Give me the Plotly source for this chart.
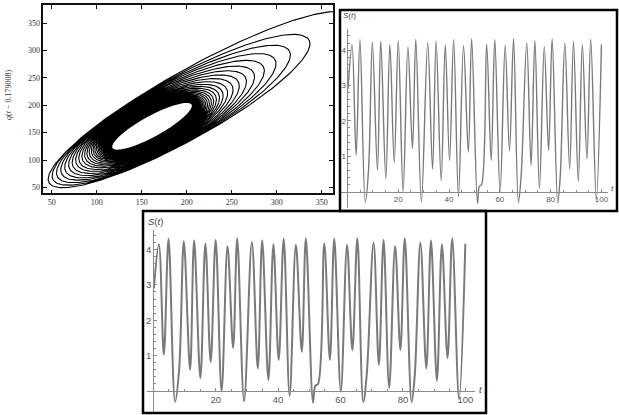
import numpy as np
import plotly.graph_objects as go

W, H = 619, 415

# ---------------- time series S(t): extremes / shoulders
t_vals = [0.2, 1.8, 3.4, 4.9, 7.0, 8.3, 9.8, 11.8, 13.1, 15.1, 16.7, 18.4, 20.0, 21.9,
          23.8, 25.6, 26.9, 29.1, 31.6, 33.5, 34.9, 36.9, 38.5, 40.2, 41.8, 43.7,
          45.7, 47.6, 48.9, 51.2, 51.9, 52.8, 54.8, 56.6, 58.0, 60.1, 62.1, 63.8,
          65.4, 67.3, 68.4, 70.6, 72.3, 73.8, 75.6, 77.5, 79.2, 80.6, 82.8, 83.8,
          85.6, 87.5, 89.0, 90.9, 92.5, 94.3, 95.8, 98.0, 100.0]
s_vals = [2.9, 4.15, 1.03, 4.30, -0.30, 0.62, 4.23, 0.60, 4.25, 0.36, 4.17, 0.82, 4.27, 0.00,
          4.09, 1.22, 4.31, -0.29, 4.21, 0.64, 4.25, 0.31, 4.15, 0.88, 4.30, -0.14,
          4.13, 1.11, 4.32, -0.33, 0.15, 0.20, 4.17, 0.88, 4.30, -0.02, 4.13, 1.15,
          4.32, -0.31, 0.45, 4.20, 0.74, 4.27, 0.09, 4.10, 1.16, 4.32, -0.31, 0.45,
          4.20, 0.64, 4.25, 0.29, 4.15, 0.93, 4.31, -0.22, 4.16]
ts_x_ticks = [20, 40, 60, 80, 100]
ts_y_ticks = [1, 2, 3, 4]

# ---------------- phase portrait: per-turn tips and half-widths
turn_ur_x = [375, 331, 310, 294, 281, 270, 261, 253, 246, 240,
             235, 231, 227.5, 224.5, 222, 219.8, 217.8, 216, 214.5, 213.2,
             212, 211, 210.1, 209.3, 208.6, 208, 207.5, 207.1, 206.7, 206.4,
             206.1, 205.9, 205.7, 205.55, 205.42, 205.32, 205.24, 205.18, 205.13, 205.09,
             205.06, 205.04, 205.02, 205.01, 205, 205, 205, 205, 205, 205,
             205, 205]
turn_ll_x = [50, 55, 60, 65, 69.5, 74, 78, 82, 85.5, 89,
             92, 94.7, 97.2, 99.5, 101.5, 103.3, 105, 106.5, 107.8, 109,
             110.1, 111.1, 112, 112.8, 113.5, 114.1, 114.7, 115.2, 115.6, 116,
             116.35, 116.65, 116.9, 117.1, 117.3, 117.45, 117.58, 117.68, 117.76, 117.83,
             117.88, 117.92, 117.95, 117.97, 117.99, 118, 118, 118, 118, 118,
             118, 118]
turn_half_width = [50, 49, 48, 47, 46, 45, 44, 43, 42, 41,
                   40, 39.3, 38.6, 37.9, 37.2, 36.5, 35.8, 35.1, 34.4, 33.7,
                   33, 32.3, 31.6, 30.9, 30.2, 29.5, 28.8, 28.1, 27.4, 26.7,
                   26, 25.3, 24.6, 23.9, 23.2, 22.6, 22, 21.4, 20.8, 20.3,
                   19.8, 19.3, 18.9, 18.5, 18.2, 17.9, 17.6, 17.4, 17.2, 17.1,
                   17, 17]
tip_slope, tip_offset = 0.97, 5.0
phase_ticks = [50, 100, 150, 200, 250, 300, 350]

# ---- spiral geometry from the turn table
n = len(turn_ur_x)
k = np.arange(n)
phi = np.linspace(0, 2 * np.pi * (n - 1), 260 * (n - 1) + 1)
ur = np.interp(phi, 2 * np.pi * k, turn_ur_x)
ll = np.interp(phi, 2 * np.pi * k + np.pi, turn_ll_x)
bb = np.interp(phi, 2 * np.pi * k + np.pi / 2, turn_half_width)
xu, yu = ur, tip_slope * ur + tip_offset
xl, yl = ll, tip_slope * ll + tip_offset
cx, cy = (xu + xl) / 2, (yu + yl) / 2
aa = np.hypot(xu - xl, yu - yl) / 2
th = np.arctan2(yu - yl, xu - xl)
u, v = aa * np.cos(phi), bb * np.sin(phi)
sx = cx + u * np.cos(th) - v * np.sin(th)
sy = cy + u * np.sin(th) + v * np.cos(th)


def px(x):
    return x / W


def py(y):
    return 1 - y / H


fig = go.Figure()
fig.add_trace(go.Scatter(x=sx, y=sy, mode="lines", line=dict(color="black", width=1.1),
                         xaxis="x", yaxis="y", hoverinfo="skip"))
fig.add_trace(go.Scatter(x=t_vals, y=s_vals, mode="lines", line_shape="spline",
                         line=dict(color="#7a7a7a", width=1.4), xaxis="x2", yaxis="y2"))
fig.add_trace(go.Scatter(x=t_vals, y=s_vals, mode="lines", line_shape="spline",
                         line=dict(color="#7a7a7a", width=2), xaxis="x3", yaxis="y3"))

serif = "Liberation Serif"
sans = "Liberation Sans"

# panel 1 axes
ax1 = dict(showgrid=False, zeroline=False, showline=True, linecolor="#111", linewidth=1.5,
           mirror="ticks", ticks="inside", ticklen=4, tickcolor="#111", automargin=False,
           tickfont=dict(family=serif, size=8, color="#333"))
fig.update_layout(
    xaxis=dict(domain=[px(43.3), px(333)], range=[40.7, 362.6], tickvals=phase_ticks,
               anchor="y", **ax1),
    yaxis=dict(domain=[py(193.3), py(5)], range=[39.1, 383.5], tickvals=phase_ticks,
               anchor="x", **ax1),
)

# time-series panels with axes crossing at the origin
def ts_axes(xdom_px, xr, ydom_px, yr, fsize):
    xd = [px(xdom_px[0]), px(xdom_px[1])]
    yd = [py(ydom_px[1]), py(ydom_px[0])]
    xpos = xd[0] + (0 - xr[0]) / (xr[1] - xr[0]) * (xd[1] - xd[0])
    ypos = yd[0] + (0 - yr[0]) / (yr[1] - yr[0]) * (yd[1] - yd[0])
    common = dict(showgrid=False, zeroline=False, showline=True, linecolor="#8a8a8a",
                  linewidth=1, ticks="inside", ticklen=3, tickcolor="#8a8a8a",
                  automargin=False,
                  tickfont=dict(family=sans, size=fsize, color="#555"))
    xa = dict(domain=xd, range=xr, anchor="free", position=ypos, tickvals=ts_x_ticks,
              minor=dict(tickvals=[v for v in range(5, 101, 5) if v % 20], ticks="inside",
                         ticklen=2, tickcolor="#8a8a8a"), **common)
    ya = dict(domain=yd, range=yr, anchor="free", position=xpos, tickvals=ts_y_ticks,
              minor=dict(tickvals=[i / 5 for i in range(1, 23) if i % 5], ticks="inside",
                         ticklen=2, tickcolor="#8a8a8a"), **common)
    return xa, ya

xa2, ya2 = ts_axes((340, 608), [-2.95, 102.6], (28.9, 207.6), [-0.45, 4.6], 8)
xa3, ya3 = ts_axes((146.7, 475), [-2.1, 103.1], (230, 412), [-0.593, 4.55], 9.5)
fig.update_layout(xaxis2=xa2, yaxis2=ya2, xaxis3=xa3, yaxis3=ya3)

# boxes
box = dict(type="rect", xref="paper", yref="paper", line=dict(color="black", width=2.5),
           fillcolor="rgba(0,0,0,0)", layer="above")
fig.add_shape(x0=px(340), x1=px(617), y0=py(211), y1=py(10), **box)
fig.add_shape(x0=px(143), x1=px(486), y0=py(413), y1=py(211), **box)

ann = []
def label(text, x, y, size, family=sans, xanchor="left", angle=0, color="#444"):
    ann.append(dict(text=text, x=px(x), y=py(y), xref="paper", yref="paper",
                    showarrow=False, xanchor=xanchor, yanchor="middle", textangle=angle,
                    font=dict(family=family, size=size, color=color)))

label("<i>S</i>(<i>t</i>)", 341, 16, 8)
label("<i>t</i>", 612, 188, 8, xanchor="center")
label("<i>S</i>(<i>t</i>)", 146, 221, 9.5)
label("<i>t</i>", 480, 389, 9.5, xanchor="center")
label("<i>q</i>(<i>t</i> − 0.179008)", 9, 95, 8, family=serif, xanchor="center",
      angle=-90, color="#333")
fig.update_layout(annotations=ann)

fig.update_layout(width=W, height=H, margin=dict(l=0, r=0, t=0, b=0), autosize=False,
                  paper_bgcolor="white", plot_bgcolor="white", showlegend=False)
fig.write_html("out.html", config={"displayModeBar": False},
               post_script="document.body.style.margin='0';document.body.style.overflow='hidden';")
